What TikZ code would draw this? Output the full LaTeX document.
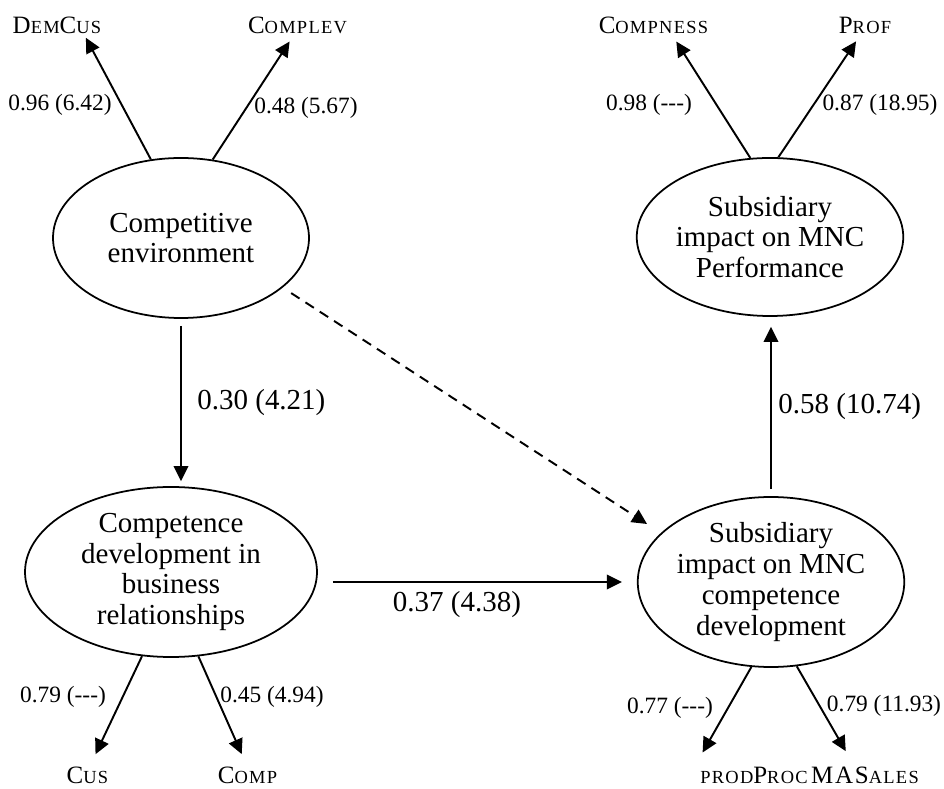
\documentclass[tikz,border=0pt]{standalone}
\usepackage{fontspec}
\setmainfont{Liberation Serif}
\usetikzlibrary{shapes.geometric,arrows.meta}

\newcommand{\bigt}{\fontsize{16.5}{17.5}\selectfont}
\newcommand{\smallt}{\fontsize{13.3}{14}\selectfont}
\newcommand{\vname}[1]{{\fontsize{14.2}{14}\selectfont\addfontfeature{LetterSpace=7}#1}}
\newcommand{\lowc}[1]{{\fontsize{10.5}{10}\selectfont #1}}
\newcommand{\nomt}{-{}-{}-}

\begin{document}
\begin{tikzpicture}[
	lat/.style={draw,ellipse,line width=1pt,inner sep=0pt,align=center,font=\bigt},
	arr/.style={-{Triangle[length=0.3cm,width=0.29cm]},line width=1.1pt},
	load/.style={font=\smallt,inner sep=1pt},
	ind/.style={inner sep=2pt}]
	\useasboundingbox (0,0) rectangle (18.88,15.76);
	% latent constructs
	\node[lat,minimum width=5.12cm,minimum height=3.2cm] (compenv) at (3.62,11.0) {Competitive\\environment};
	\node[lat,minimum width=5.84cm,minimum height=3.4cm] (compdev) at (3.42,4.32) {Competence\\development in\\business\\relationships};
	\node[lat,minimum width=5.24cm,minimum height=3.4cm] (subcomp) at (15.42,4.12) {Subsidiary\\impact on MNC\\competence\\development};
	\node[lat,minimum width=5.2cm,minimum height=3.16cm] (subperf) at (15.4,11.02) {Subsidiary\\impact on MNC\\Performance};
	% indicators
	\node[ind] (demcus) at (1.14,15.25) {\vname{D\lowc{EM}C\lowc{US}}};
	\node[ind] (complev) at (5.95,15.25) {\vname{C\lowc{OMPLEV}}};
	\node[ind] (compness) at (13.07,15.25) {\vname{C\lowc{OMPNESS}}};
	\node[ind] (prof) at (17.3,15.25) {\vname{P\lowc{ROF}}};
	\node[ind] (cus) at (1.75,0.25) {\vname{C\lowc{US}}};
	\node[ind] (comp) at (4.95,0.25) {\vname{C\lowc{OMP}}};
	\node[ind] (prodproc) at (15.08,0.25) {\vname{\lowc{PROD}P\lowc{ROC}}};
	\node[ind] (masales) at (17.3,0.25) {\vname{MAS\lowc{ALES}}};
	% loadings
	\node[load] (ldemcus) at (1.2,13.66) {0.96 (6.42)};
	\node[load] (lcomplev) at (6.12,13.6) {0.48 (5.67)};
	\node[load] (lcompness) at (12.98,13.66) {0.98 (\nomt)};
	\node[load] (lprof) at (17.6,13.66) {0.87 (18.95)};
	\node[load] (lcus) at (1.26,1.82) {0.79 (\nomt)};
	\node[load] (lcomp) at (5.44,1.82) {0.45 (4.94)};
	\node[load] (lprodproc) at (13.4,1.6) {0.77 (\nomt)};
	\node[load] (lmasales) at (17.68,1.64) {0.79 (11.93)};
	\draw[arr] (compenv.111) -- (demcus.-23);
	\draw[arr,shorten >=0.09cm] (compenv.68) -- (complev.-114);
	\draw[arr,shorten >=0.09cm] (subperf.104) -- (compness.-31);
	\draw[arr,shorten >=0.09cm] (subperf.84) -- (prof.-118);
	\draw[arr,shorten >=0.2cm] (compdev.-109) -- (cus.73);
	\draw[arr,shorten >=0.2cm] (compdev.-72) -- (comp.98);
	\draw[arr,shorten >=0.25cm] (subcomp.-103) -- (prodproc.north west);
	\draw[arr,shorten >=0.28cm] (subcomp.-73) -- (masales.135);
	% structural paths
	\draw[arr,shorten <=0.14cm,shorten >=0.1cm] (compenv.south) -- (compenv.south |- compdev.north);
	\draw[arr,shorten <=0.3cm,shorten >=0.3cm] (compdev.east |- subcomp.west) -- (subcomp.west);
	\draw[arr,shorten <=0.14cm,shorten >=0.2cm] (subcomp.north) -- (subcomp.north |- subperf.south);
	\draw[arr,dash pattern=on 5.7pt off 4pt,shorten <=0.2cm,shorten >=0.33cm] (compenv.-26) -- (subcomp.156);
	\node[anchor=west,inner sep=0pt,font=\bigt] (pcomp) at (3.94,7.7) {0.30 (4.21)};
	\node[anchor=west,inner sep=0pt,font=\bigt] (pperf) at (15.56,7.62) {0.58 (10.74)};
	\node[inner sep=0pt,font=\bigt] (pdev) at (9.14,3.66) {0.37 (4.38)};
\end{tikzpicture}
\end{document}
